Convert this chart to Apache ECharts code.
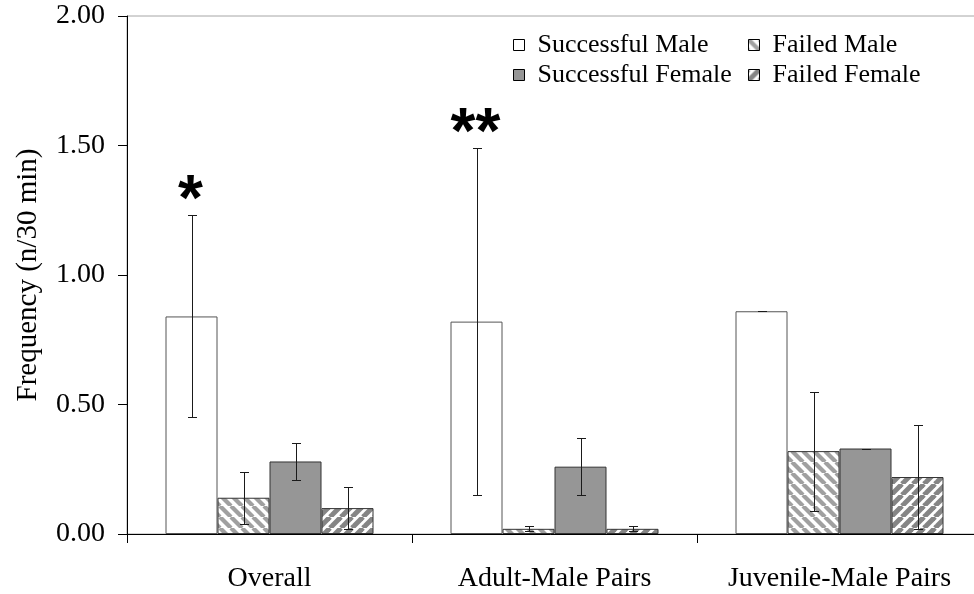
<!DOCTYPE html>
<html>
<head>
<meta charset="utf-8">
<script src="https://cdn.jsdelivr.net/npm/echarts@6/dist/echarts.min.js"></script>
<style>
  html, body { margin: 0; padding: 0; background: #fff; }
  #chart { width: 974px; height: 594px; }
</style>
</head>
<body>
<div id="chart"></div>
<script>
// Pair categories
const categories = ['Overall', 'Adult-Male Pairs', 'Juvenile-Male Pairs'];

// Mean frequency per 30 min
const successfulMale   = [0.84, 0.82, 0.86];
const failedMale       = [0.14, 0.02, 0.32];
const successfulFemale = [0.28, 0.26, 0.33];
const failedFemale     = [0.10, 0.02, 0.22];

// Error bar ends (lower, upper)
const successfulMaleLow    = [0.45, 0.15, 0.86];
const successfulMaleHigh   = [1.23, 1.49, 0.86];
const failedMaleLow        = [0.04, 0.01, 0.09];
const failedMaleHigh       = [0.24, 0.03, 0.55];
const successfulFemaleLow  = [0.21, 0.15, 0.33];
const successfulFemaleHigh = [0.35, 0.37, 0.33];
const failedFemaleLow      = [0.02, 0.01, 0.02];
const failedFemaleHigh     = [0.18, 0.03, 0.42];

// Significance marks above the successful-male bars
const significance = ['*', '**', ''];

// Y axis ticks
const yTicks = [0, 0.5, 1.0, 1.5, 2.0];

const SERIF = 'Liberation Serif';
const BAR_W = 52;

function stripes(dir, stripeColor, width, size) {
  const c = document.createElement('canvas');
  c.width = size; c.height = size;
  const ctx = c.getContext('2d');
  ctx.fillStyle = '#ffffff';
  ctx.fillRect(0, 0, size, size);
  ctx.strokeStyle = stripeColor;
  ctx.lineWidth = width;
  for (let k = -1; k <= 1; k++) {
    ctx.beginPath();
    if (dir === 'down') {
      ctx.moveTo(k * size, 0);
      ctx.lineTo(k * size + size, size);
    } else {
      ctx.moveTo(k * size, size);
      ctx.lineTo(k * size + size, 0);
    }
    ctx.stroke();
  }
  return { image: c, repeat: 'repeat' };
}

const fillSM = '#ffffff';
const fillFM = stripes('down', '#a0a0a0', 4.2, 11);
const fillSF = '#969696';
const fillFF = stripes('up', '#858585', 5.0, 11);

const groups = [
  { name: 'Successful Male',   values: successfulMale,   low: successfulMaleLow,   high: successfulMaleHigh,   fill: fillSM, border: '#555555' },
  { name: 'Failed Male',       values: failedMale,       low: failedMaleLow,       high: failedMaleHigh,       fill: fillFM, border: '#333333' },
  { name: 'Successful Female', values: successfulFemale, low: successfulFemaleLow, high: successfulFemaleHigh, fill: fillSF, border: '#333333' },
  { name: 'Failed Female',     values: failedFemale,     low: failedFemaleLow,     high: failedFemaleHigh,     fill: fillFF, border: '#333333' }
];

const barSeries = groups.map(g => ({
  name: g.name,
  type: 'bar',
  data: g.values,
  barWidth: BAR_W,
  barGap: '0%',
  itemStyle: { color: g.fill, borderColor: g.border, borderWidth: 1 },
  emphasis: { disabled: true },
  silent: true,
  z: 2
}));

const errorData = [];
groups.forEach((g, s) => {
  categories.forEach((_, i) => errorData.push([i, g.low[i], g.high[i], s]));
});

const errorSeries = {
  type: 'custom',
  name: 'error',
  data: errorData,
  z: 5,
  silent: true,
  encode: { x: 0, y: [1, 2] },
  renderItem(params, api) {
    const cat = api.value(0);
    const s = api.value(3);
    const lo = api.coord([cat, api.value(1)]);
    const hi = api.coord([cat, api.value(2)]);
    const x = Math.round(lo[0] + (s - 1.5) * BAR_W) + 0.5;
    const yLo = Math.round(lo[1]) + 0.5;
    const yHi = Math.round(hi[1]) + 0.5;
    const cap = 4.5;
    const style = { stroke: '#1a1a1a', lineWidth: 1 };
    const children = [
      { type: 'line', shape: { x1: x, y1: yLo, x2: x, y2: yHi }, style },
      { type: 'line', shape: { x1: x - cap, y1: yLo, x2: x + cap, y2: yLo }, style },
      { type: 'line', shape: { x1: x - cap, y1: yHi, x2: x + cap, y2: yHi }, style }
    ];
    if (s === 0 && significance[cat]) {
      children.push({
        type: 'text',
        style: {
          text: significance[cat],
          x: x - 2, y: yHi - 13,
          align: 'center', verticalAlign: 'middle',
          fontFamily: 'Liberation Sans', fontWeight: 'bold', fontSize: 64,
          fill: '#000'
        }
      });
    }
    return { type: 'group', children };
  }
};

const legendText = { fontFamily: SERIF, fontSize: 26, color: '#000', padding: [0, 0, 0, 8], lineHeight: 26 };

const chart = echarts.init(document.getElementById('chart'), null, { renderer: 'canvas' });
chart.setOption({
  animation: false,
  backgroundColor: '#ffffff',
  grid: {
    left: 127, width: 855, top: 16, bottom: 60,
    containLabel: false, outerBoundsMode: 'none',
    show: true, borderColor: '#a6a6a6', borderWidth: 1, backgroundColor: 'transparent'
  },
  legend: [
    {
      data: ['Successful Male', 'Successful Female'],
      orient: 'vertical', left: 513, top: 32, itemGap: 4, padding: 0,
      itemWidth: 11, itemHeight: 11, icon: 'rect',
      itemStyle: { borderColor: '#000', borderWidth: 1 },
      textStyle: legendText, selectedMode: false
    },
    {
      data: ['Failed Male', 'Failed Female'],
      orient: 'vertical', left: 748, top: 32, itemGap: 4, padding: 0,
      itemWidth: 11, itemHeight: 11, icon: 'rect',
      itemStyle: { borderColor: '#000', borderWidth: 1 },
      textStyle: legendText, selectedMode: false
    }
  ],
  xAxis: {
    type: 'category',
    data: categories,
    axisLine: { lineStyle: { color: '#000', width: 1 } },
    axisTick: { show: true, length: 9, lineStyle: { color: '#000' } },
    axisLabel: { fontFamily: SERIF, fontSize: 28, color: '#000', margin: 31, interval: 0 },
    splitLine: { show: false }
  },
  yAxis: {
    type: 'value',
    min: yTicks[0],
    max: yTicks[yTicks.length - 1],
    interval: yTicks[1] - yTicks[0],
    name: 'Frequency (n/30 min)',
    nameLocation: 'middle',
    nameGap: 84,
    nameTextStyle: { fontFamily: SERIF, fontSize: 29, color: '#000' },
    axisLine: { show: true, lineStyle: { color: '#000', width: 1 } },
    axisTick: { show: true, length: 9, lineStyle: { color: '#000' } },
    axisLabel: { fontFamily: SERIF, fontSize: 28, color: '#000', margin: 22, formatter: v => v.toFixed(2) },
    splitLine: { show: false }
  },
  series: [...barSeries, errorSeries]
});
</script>
</body>
</html>
